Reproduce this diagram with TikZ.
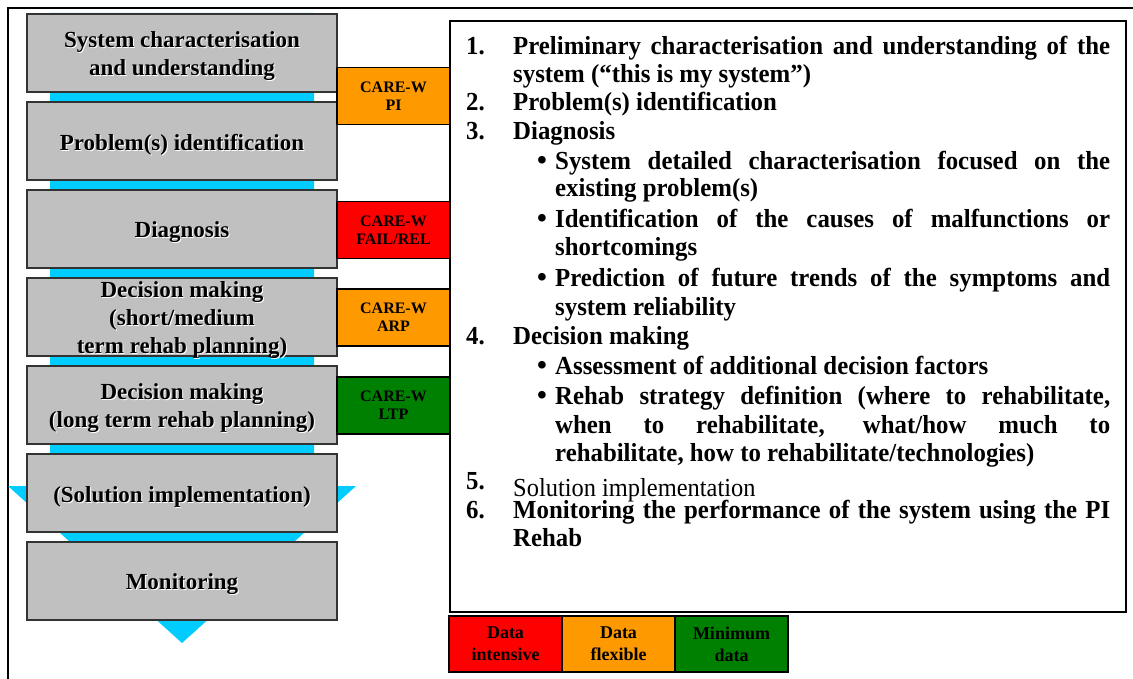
\documentclass[tikz,border=0pt]{standalone}
\usepackage{fontspec}
\setmainfont{Liberation Serif}
\newfontfamily\panelfont[FakeStretch=0.955]{Liberation Serif}
\newfontfamily\plainfont[FakeStretch=0.94]{Liberation Serif}
\definecolor{flowcyan}{HTML}{00CCFF}
\definecolor{boxgray}{HTML}{C0C0C0}
\definecolor{tagorange}{HTML}{FF9900}
\definecolor{tagred}{HTML}{FF0000}
\definecolor{taggreen}{HTML}{008000}
% embossed label line: white copy slightly offset behind the black text,
% set a little low in its box
\newcommand\emb[1]{\raisebox{-4pt}[\height][\depth]{\rlap{\kern1pt\raisebox{-1pt}{\textcolor{white}{#1}}}#1}}
\newcommand\jline[2]{\makebox[#1][s]{#2}}
\begin{document}
\begin{tikzpicture}[x=1pt,y=-1pt,
  stage/.style={draw=black!80, line width=1.2pt, fill=boxgray, minimum width=310pt,
    minimum height=78pt, inner sep=0pt, align=center,
    font=\fontsize{23}{28}\selectfont\bfseries},
  tool/.style={draw=black, line width=1.2pt, minimum width=113pt, minimum height=57pt,
    inner sep=0pt, align=center, font=\fontsize{16}{18}\selectfont\bfseries},
  key/.style={draw=black, line width=1.2pt, minimum width=113pt, minimum height=56pt,
    inner sep=0pt, align=center, font=\fontsize{18}{22}\selectfont\bfseries},
  num/.style={anchor=base west, inner sep=0pt, font=\panelfont\fontsize{26}{28}\selectfont\bfseries},
  txt/.style={anchor=base west, inner sep=0pt, font=\panelfont\fontsize{26}{28}\selectfont\bfseries},
  plain/.style={anchor=base west, inner sep=0pt, font=\plainfont\fontsize{26}{28}\selectfont},
  dot/.style={anchor=base west, inner sep=0pt, font=\fontsize{28}{28}\selectfont\bfseries}]
\useasboundingbox (0,0) rectangle (1133,679);
% outer frame
\draw[line width=1.5pt] (8,679) -- (8,8) -- (1133,8);
% flow arrow behind the stages
\fill[flowcyan] (50,13) -- (314,13) -- (314,486) -- (356,486) -- (182,643)
  -- (8,486) -- (50,486) -- cycle;
% stages
\node[stage] (s1) at (182,53)  {\emb{System characterisation}\\\emb{and understanding}};
\node[stage] (s2) at (182,141) {\emb{Problem(s) identification}};
\node[stage] (s3) at (182,229) {\emb{Diagnosis}};
\node[stage] (s4) at (182,317) {\emb{Decision making}\\\emb{(short/medium}\\\emb{term rehab planning)}};
\node[stage] (s5) at (182,405) {\emb{Decision making}\\\emb{(long term rehab planning)}};
\node[stage] (s6) at (182,493) {\emb{(Solution implementation)}};
\node[stage] (s7) at (182,581) {\emb{Monitoring}};
% tools
\node[tool, fill=tagorange] (pi)  at (393.5,96)  {CARE-W\\PI};
\node[tool, fill=tagred]    (fr)  at (393.5,230) {CARE-W\\FAIL/REL};
\node[tool, fill=tagorange] (arp) at (393.5,317.5) {CARE-W\\ARP};
\node[tool, fill=taggreen]  (ltp) at (393.5,405.5) {CARE-W\\LTP};
% description panel
\draw[line width=2pt] (450,21) rectangle (1126,612);
\node[num] (n1) at (466,55) {1.};
\node[txt] (l1a) at (513,55) {\jline{597pt}{Preliminary characterisation and understanding of the}};
\node[txt] (l1b) at (513,83) {system (“this is my system”)};
\node[num] (n2) at (466,111) {2.};
\node[txt] (l2) at (513,111) {Problem(s) identification};
\node[num] (n3) at (466,140) {3.};
\node[txt] (l3) at (513,140) {Diagnosis};
\node[dot] (b31) at (537,170) {•};
\node[txt] (l31a) at (555,170) {\jline{555pt}{System detailed characterisation focused on the}};
\node[txt] (l31b) at (555,197) {existing problem(s)};
\node[dot] (b32) at (537,228) {•};
\node[txt] (l32a) at (555,228) {\jline{555pt}{Identification of the causes of malfunctions or}};
\node[txt] (l32b) at (555,256) {shortcomings};
\node[dot] (b33) at (537,287) {•};
\node[txt] (l33a) at (555,287) {\jline{555pt}{Prediction of future trends of the symptoms and}};
\node[txt] (l33b) at (555,315) {system reliability};
\node[num] (n4) at (466,344) {4.};
\node[txt] (l4) at (513,344) {Decision making};
\node[dot] (b41) at (537,374) {•};
\node[txt] (l41) at (555,374) {Assessment of additional decision factors};
\node[dot] (b42) at (537,404) {•};
\node[txt] (l42a) at (555,404) {\jline{555pt}{Rehab strategy definition (where to rehabilitate,}};
\node[txt] (l42b) at (555,433) {\jline{555pt}{when to rehabilitate, what/how much to}};
\node[txt] (l42c) at (555,461) {rehabilitate, how to rehabilitate/technologies)};
\node[num] (n5) at (466,489) {5.};
\node[plain] (l5) at (513,496) {Solution implementation};
\node[num] (n6) at (466,518) {6.};
\node[txt] (l6a) at (513,518) {\jline{597pt}{Monitoring the performance of the system using the PI}};
\node[txt] (l6b) at (513,546) {Rehab};
% data legend
\node[key, fill=tagred]    (kr) at (505.5,644) {Data\\intensive};
\node[key, fill=tagorange] (ko) at (618.5,644) {Data\\flexible};
\node[key, fill=taggreen]  (kg) at (731.5,644) {Minimum\\data};
\end{tikzpicture}
\end{document}
